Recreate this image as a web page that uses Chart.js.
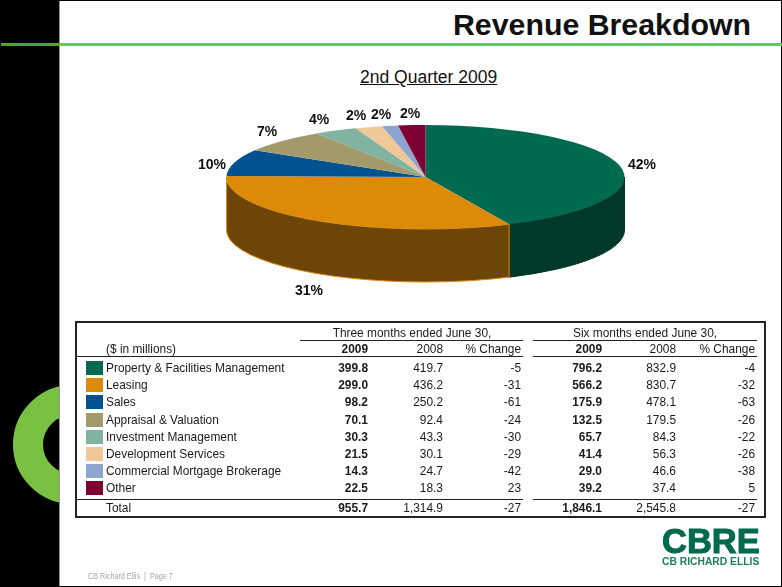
<!DOCTYPE html>
<html>
<head>
<meta charset="utf-8">
<title>Revenue Breakdown</title>
<script src="https://cdn.jsdelivr.net/npm/chart.js@4/dist/chart.umd.js"></script>
<style>
  html, body { margin: 0; padding: 0; background: #000; }
  body { position: relative; width: 782px; height: 587px; overflow: hidden; font-family: "Liberation Sans", Arial, sans-serif; color: #111; }
  .abs, .cell, .rule, .swatch, .pct { position: absolute; }
  #ring { left: 13px; top: 385px; width: 59px; height: 59px; border: 30px solid #78c142; border-radius: 50%; }
  #panel { left: 59px; top: 1px; width: 722px; height: 585px; background: #fff; border-left: 1px solid #999; box-sizing: border-box; }
  #greenDark { left: 1px; top: 43px; width: 58px; height: 3px; background: #4fa52c; }
  #greenLight { left: 60px; top: 43px; width: 722px; height: 3px; background: #66cc44; }
  #title { right: 31px; top: 8px; font-size: 30.3px; font-weight: bold; white-space: nowrap; }
  #subtitle { left: 360px; top: 67px; font-size: 17.5px; text-decoration: underline; white-space: nowrap; }
  #chart { left: 0; top: 0; }
  .pct { font-size: 14px; font-weight: bold; transform: translate(-50%, -50%); white-space: nowrap; }
  #box { left: 75px; top: 321px; width: 691px; height: 197px; border: 2px solid #222; box-sizing: border-box; }
  .cell { font-size: 11.9px; line-height: 14px; white-space: nowrap; transform: translateY(-50%); color: #1a1a1a; }
  .num { transform: translate(-100%, -50%); }
  .mid { transform: translate(-50%, -50%); }
  .bold { font-weight: bold; }
  .rule { height: 1px; background: #222; }
  .swatch { left: 86px; width: 17px; height: 14px; transform: translateY(-50%); }
  #logo { left: 662px; top: 522px; font-size: 34.5px; font-weight: bold; color: #006a4d; -webkit-text-stroke: 1px #006a4d; white-space: nowrap; }
  #logoSub { left: 662px; top: 556px; font-size: 10.3px; font-weight: bold; color: #1f7d60; white-space: nowrap; }
  #footer { left: 88px; top: 571px; font-size: 9px; color: #a8a8a8; white-space: nowrap; transform: scaleX(0.8); transform-origin: left center; }
</style>
</head>
<body>
<div class="abs" id="ring"></div>
<div class="abs" id="panel"></div>
<div class="abs" id="greenDark"></div>
<div class="abs" id="greenLight"></div>
<div class="abs" id="title">Revenue Breakdown</div>
<div class="abs" id="subtitle">2nd Quarter 2009</div>
<canvas class="abs" id="chart" width="782" height="587"></canvas>
<div class="abs" id="box"></div>
<div class="abs" id="logo">CBRE</div>
<div class="abs" id="logoSub">CB RICHARD ELLIS</div>
<div class="abs" id="footer">CB Richard Ellis &nbsp;|&nbsp; Page 7</div>
<script>
const categories = ["Property & Facilities Management", "Leasing", "Sales", "Appraisal & Valuation",
  "Investment Management", "Development Services", "Commercial Mortgage Brokerage", "Other"];

// slice shares as drawn in the picture (%), the printed labels are rounded differently
const sliceShares = [43.1, 32.2, 8.3, 7.2, 3.5, 2.2, 1.3, 2.2];
const sliceLabels = ["42%", "31%", "10%", "7%", "4%", "2%", "2%", "2%"];

const q2009 = ["399.8", "299.0", "98.2", "70.1", "30.3", "21.5", "14.3", "22.5"];
const q2008 = ["419.7", "436.2", "250.2", "92.4", "43.3", "30.1", "24.7", "18.3"];
const qChange = ["-5", "-31", "-61", "-24", "-30", "-29", "-42", "23"];
const h2009 = ["796.2", "566.2", "175.9", "132.5", "65.7", "41.4", "29.0", "39.2"];
const h2008 = ["832.9", "830.7", "478.1", "179.5", "84.3", "56.3", "46.6", "37.4"];
const hChange = ["-4", "-32", "-63", "-26", "-22", "-26", "-38", "5"];
const totals = ["955.7", "1,314.9", "-27", "1,846.1", "2,545.8", "-27"];

const topColors = ["#006a50", "#dd8a0b", "#00528f", "#a39a6c", "#80b3a2", "#f0c898", "#8da6cf", "#7f0032"];
const wallColors = ["#00382a", "#6d4506", "#00528f", "#a39a6c", "#80b3a2", "#f0c898", "#8da6cf", "#7f0032"];
const wallEdges = ["#00382a", "#dd8a0b"];

const RX = 199, RY = 52, DEPTH = 53;

// squashes the pie into an ellipse and puts the side wall under it
const tiltPlugin = {
  id: "tilt",
  beforeDatasetsDraw(chart) {
    const ctx = chart.ctx;
    const arcs = chart.getDatasetMeta(0).data;
    const cx = arcs[0].x, cy = arcs[0].y;
    arcs.forEach((arc, i) => {
      const a0 = Math.max(arc.startAngle, 0);
      const a1 = Math.min(arc.endAngle, Math.PI);
      if (a1 <= a0) return;
      ctx.beginPath();
      ctx.ellipse(cx, cy, RX, RY, 0, a0, a1);
      ctx.ellipse(cx, cy + DEPTH, RX, RY, 0, a1, a0, true);
      ctx.closePath();
      ctx.fillStyle = wallColors[i];
      ctx.fill();
      ctx.strokeStyle = wallEdges[i] || wallColors[i];
      ctx.lineWidth = 1;
      ctx.stroke();
    });
    ctx.save();
    ctx.translate(cx, cy);
    ctx.scale(1, RY / RX);
    ctx.translate(-cx, -cy);
  },
  afterDatasetsDraw(chart) {
    chart.ctx.restore();
  }
};

new Chart(document.getElementById("chart"), {
  type: "pie",
  data: {
    labels: categories,
    datasets: [{ data: sliceShares, backgroundColor: topColors, borderWidth: 0, clip: false, radius: RX }]
  },
  options: {
    responsive: false,
    animation: false,
    layout: { padding: { left: 69, right: 0, top: 0, bottom: 233 } },
    plugins: { legend: { display: false }, tooltip: { enabled: false } }
  },
  plugins: [tiltPlugin]
});

function addText(cls, text, left, top) {
  const el = document.createElement("div");
  el.className = cls;
  el.textContent = text;
  el.style.left = left + "px";
  el.style.top = top + "px";
  document.body.appendChild(el);
}

function addRule(left, right, top) {
  const el = document.createElement("div");
  el.className = "rule";
  el.style.left = left + "px";
  el.style.width = (right - left) + "px";
  el.style.top = top + "px";
  document.body.appendChild(el);
}

// percent labels round the pie
const labelSpots = [[642, 164], [309, 290], [212, 164], [267, 131], [319, 119], [356, 115], [381, 114], [410, 113]];
sliceLabels.forEach((t, i) => addText("pct", t, labelSpots[i][0], labelSpots[i][1]));

// table
const colRight = [368, 443, 521, 602, 676, 755];
const boldCols = [true, false, false, true, false, false];
const colData = [q2009, q2008, qChange, h2009, h2008, hChange];
const rowY = [368, 385.2, 402.4, 419.6, 436.8, 454, 471.2, 488.4];

addText("cell mid", "Three months ended June 30,", 412, 332.5);
addText("cell mid", "Six months ended June 30,", 645, 332.5);
addText("cell", "($ in millions)", 106, 348.5);
["2009", "2008", "% Change", "2009", "2008", "% Change"].forEach((t, c) => {
  addText("cell num" + (boldCols[c] ? " bold" : ""), t, colRight[c], 348.5);
});

addRule(300, 523, 340);
addRule(533, 757, 340);
addRule(76, 523, 356);
addRule(533, 757, 356);
addRule(76, 523, 499);
addRule(533, 757, 499);

categories.forEach((name, r) => {
  const sw = document.createElement("div");
  sw.className = "swatch";
  sw.style.top = rowY[r] + "px";
  sw.style.background = topColors[r];
  document.body.appendChild(sw);
  addText("cell", name, 106, rowY[r]);
  colData.forEach((col, c) => {
    addText("cell num" + (boldCols[c] ? " bold" : ""), col[r], colRight[c], rowY[r]);
  });
});

addText("cell", "Total", 106, 507.5);
totals.forEach((t, c) => addText("cell num" + (boldCols[c] ? " bold" : ""), t, colRight[c], 507.5));
</script>
</body>
</html>
